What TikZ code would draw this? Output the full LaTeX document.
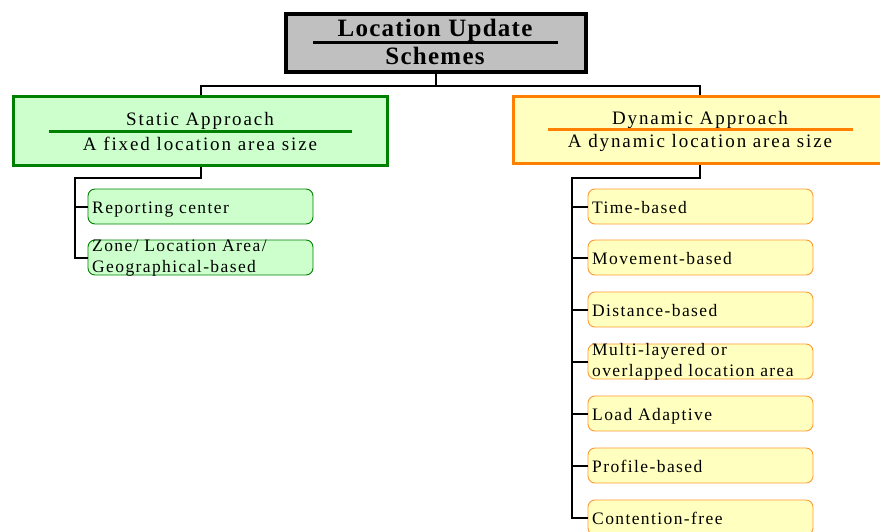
\documentclass[tikz,border=0pt]{standalone}
\usepackage{fontspec}
\setmainfont{Liberation Serif}
\newfontfamily\leaffont{Liberation Serif}[LetterSpace=8]
\newfontfamily\headfont{Liberation Serif}[LetterSpace=10]
\newfontfamily\rootfont{Liberation Serif}[LetterSpace=5]
\definecolor{rootfill}{HTML}{C0C0C0}
\definecolor{statline}{HTML}{008000}
\definecolor{statfill}{HTML}{CCFFCC}
\definecolor{dynline}{HTML}{FF8000}
\definecolor{dynfill}{HTML}{FFFFC0}
\definecolor{dynleaf}{HTML}{FF9933}
\begin{document}
\begin{tikzpicture}[x=1pt,y=-1pt,
  rootbox/.style={draw=black,line width=4.5pt,fill=rootfill,inner sep=0pt,
    minimum width=300pt,minimum height=58pt},
  statbox/.style={draw=statline,line width=3pt,fill=statfill,inner sep=0pt,
    minimum width=374pt,minimum height=69pt},
  dynbox/.style={draw=dynline,line width=3pt,fill=dynfill,inner sep=0pt,
    minimum width=372pt,minimum height=67pt},
  leaf/.style={rounded corners=7pt,inner sep=0pt,minimum width=225pt,minimum height=35pt,line width=0.9pt},
  statleaf/.style={leaf,draw=statline,fill=statfill},
  dynleaf/.style={leaf,draw=dynleaf,fill=dynfill},
  leaftext/.style={anchor=base west,inner sep=0pt,align=left,font=\leaffont\fontsize{17.5}{21}\selectfont},
  headtext/.style={anchor=base,inner sep=0pt,font=\headfont\fontsize{19}{22}\selectfont},
  roottext/.style={anchor=base,inner sep=0pt,font=\rootfont\bfseries\fontsize{25}{28}\selectfont},
  conn/.style={line width=2pt,black}]
\useasboundingbox (0,0) rectangle (880,531);
\clip (0,0) rectangle (880,531);

% root of the tree
\node[rootbox] (root) at (436,43) {};
\node[roottext] (rootA) at (435,36.7) {Location Update};
\node[roottext] (rootB) at (435,64.3) {Schemes};
\draw[line width=3pt] (313,42.5) -- (558,42.5);

% the two approaches
\node[statbox] (stat) at (200.5,131) {};
\node[headtext] (statA) at (200,125.7) {Static Approach};
\node[headtext] (statB) at (200,150) {A fixed location area size};
\draw[statline,line width=2.5pt] (49,131.5) -- (352,131.5);

\node[dynbox] (dyn) at (699.5,130) {};
\node[headtext] (dynA) at (700,124) {Dynamic Approach};
\node[headtext] (dynB) at (700,147.7) {A dynamic location area size};
\draw[dynline,line width=2.5pt] (548,129.5) -- (853,129.5);

% links from the root
\draw[conn] (root.south) -- ++(0,12) -| (stat.north);
\draw[conn] (root.south) -- ++(0,12) -| (dyn.north);

% static leaves (the base of a two-line label is its last line)
\node[statleaf] (s1) at (200.5,206.5) {};
\node[leaftext] at (92,213.3) {Reporting center};
\node[statleaf] (s2) at (200.5,257.5) {};
\node[leaftext] at (92,272.7) {Zone/ Location Area/\\Geographical-based};
\coordinate (sbus) at (75,178);
\draw[conn] (stat.south) |- (sbus) |- (s2.west);
\draw[conn] (sbus |- s1.west) -- (s1.west);

% dynamic leaves: \dy is the offset of the last baseline from the box centre
\foreach \i/\y/\dy/\t in {1/206.5/6.8/Time-based,2/257.5/6.8/Movement-based,3/309.5/6.8/Distance-based,
   4/361.5/15.2/{Multi-layered or\\overlapped location area},5/413.5/6.8/Load Adaptive,
   6/465.5/6.8/Profile-based,7/517.5/6.8/Contention-free}{
  \node[dynleaf] (d\i) at (700.5,\y) {};
  \node[leaftext] at (592,\y+\dy) {\t};
}
\coordinate (dbus) at (572,178);
\draw[conn] (dyn.south) |- (dbus) |- (d7.west);
\foreach \i in {1,...,6}{
  \draw[conn] (dbus |- d\i.west) -- (d\i.west);
}
\end{tikzpicture}
\end{document}
